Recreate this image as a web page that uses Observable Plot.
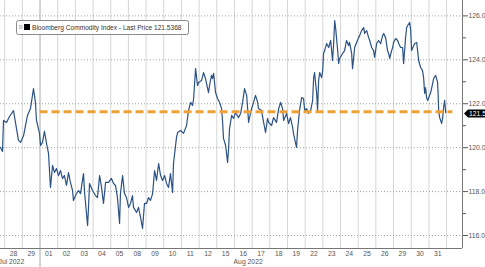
<!DOCTYPE html>
<html><head><meta charset="utf-8">
<script src="https://cdn.jsdelivr.net/npm/d3@7"></script>
<script src="https://cdn.jsdelivr.net/npm/@observablehq/plot@0.6"></script>
<style>body{margin:0;background:#fff;overflow:hidden} svg{display:block}</style>
</head><body><div id="chart"></div>
<script>
// Trading-day labels (index 0 = Jul 27)
const dayLabels = ["27","28","29","01","02","03","04","05","08","09","10","11","12","15","16","17","18","19","22","23","24","25","26","29","30","31"];
const monthLabels = ["Jul 2022","Aug 2022"];
const monthLabelPos = [0.65, 13.95];
// Intraday position in trading days
const pos = [0.764,0.877,0.934,1.104,1.273,1.50,1.61,1.78,1.90,2.07,2.29,2.46,2.63,2.74,2.80,2.97,3.03,3.14,3.25,3.37,3.48,3.59,3.71,3.82,3.93,4.05,4.16,4.27,4.38,4.50,4.61,4.72,4.84,4.89,5.06,5.18,5.29,5.46,5.52,5.69,5.74,5.80,5.97,6.14,6.25,6.37,6.48,6.59,6.71,6.88,7.04,7.16,7.27,7.38,7.50,7.55,7.67,7.78,7.89,8.01,8.12,8.23,8.29,8.46,8.57,8.69,8.80,8.91,9.03,9.14,9.25,9.37,9.48,9.59,9.71,9.82,9.93,10.05,10.16,10.27,10.38,10.50,10.55,10.72,10.78,10.95,11.12,11.29,11.40,11.52,11.63,11.69,11.80,11.91,11.97,12.14,12.25,12.36,12.53,12.59,12.70,12.76,12.82,12.93,13.04,13.16,13.27,13.33,13.38,13.50,13.61,13.67,13.72,13.84,13.95,14.06,14.23,14.35,14.46,14.57,14.69,14.80,14.85,14.97,15.08,15.19,15.31,15.36,15.53,15.65,15.76,15.87,15.93,16.10,16.21,16.38,16.50,16.61,16.72,16.78,16.95,17.06,17.17,17.29,17.34,17.46,17.51,17.57,17.68,17.80,17.91,17.97,18.08,18.19,18.31,18.42,18.48,18.53,18.65,18.70,18.76,18.82,18.93,18.99,19.04,19.10,19.21,19.33,19.44,19.55,19.61,19.67,19.72,19.84,19.89,19.95,20.12,20.23,20.34,20.46,20.51,20.63,20.68,20.80,20.91,21.02,21.08,21.19,21.31,21.36,21.48,21.59,21.65,21.76,21.87,21.93,22.04,22.15,22.27,22.38,22.44,22.55,22.66,22.72,22.78,22.89,22.95,23.00,23.12,23.23,23.29,23.40,23.51,23.57,23.68,23.74,23.80,23.91,23.97,24.02,24.14,24.19,24.31,24.36,24.42,24.53,24.64,24.70,24.76,24.81,24.87,24.93,25.10,25.21,25.27,25.38,25.49,25.52,25.55,25.61,25.72,25.78,25.83,25.89,25.95];
const price = [120.01,119.83,121.24,121.15,121.42,121.69,121.15,120.33,120.24,120.55,121.47,121.78,122.69,122.06,121.24,120.65,120.10,120.24,120.74,120.19,119.74,118.19,119.19,118.87,119.05,118.73,118.96,118.60,118.73,118.28,118.87,118.42,118.05,117.60,117.91,118.05,117.91,118.82,117.96,116.46,117.23,118.37,118.05,117.82,117.73,118.73,118.19,117.46,118.42,118.42,118.60,118.37,118.28,117.73,116.55,117.91,118.73,117.91,117.73,117.28,117.46,117.82,117.28,117.05,117.28,116.82,116.32,117.46,117.46,117.73,117.60,117.91,118.96,118.51,119.28,118.73,118.51,118.73,118.37,118.19,118.82,117.96,119.28,120.46,120.69,120.78,120.65,121.01,121.69,122.06,121.92,122.24,123.60,122.83,122.97,123.06,123.42,123.15,122.51,122.83,123.29,123.15,123.38,122.51,122.24,122.06,121.78,121.15,120.42,120.10,119.33,119.96,120.87,121.47,121.33,121.60,121.37,121.56,122.06,122.69,122.38,121.15,121.37,121.78,122.06,122.38,122.06,121.78,121.69,121.15,120.69,121.33,121.15,121.01,121.37,121.15,121.78,122.06,121.78,121.24,121.56,121.10,121.37,120.92,120.65,120.19,120.01,120.78,121.69,122.28,122.24,121.69,121.78,121.56,121.69,122.15,123.19,123.42,122.47,121.69,123.06,123.42,123.19,123.51,124.29,124.42,124.74,124.56,124.88,123.97,124.74,125.79,125.47,124.42,123.83,124.06,124.29,124.42,124.88,124.65,124.79,124.29,123.60,124.56,124.79,125.01,125.10,125.33,125.47,125.20,125.33,125.01,124.88,124.56,124.42,124.11,124.74,124.88,124.74,125.10,125.20,125.01,124.42,124.29,124.06,124.42,124.56,124.79,124.97,124.88,124.74,124.56,124.56,123.83,125.01,125.47,125.56,125.70,125.33,124.42,124.65,124.74,124.79,124.42,123.97,123.65,123.51,123.19,122.47,122.74,122.28,122.15,122.51,122.92,123.15,123.29,122.97,122.47,121.69,121.37,121.10,121.37,121.83,122.15,121.60];
const refLevel = 121.64;
const lastPrice = 121.5368;
const yTicks = [116,118,120,122,124,126];
const yMinor = [117,119,121,123,125];
const legendText = "Bloomberg Commodity Index - Last Price 121.5368";

const series = pos.map((p, i) => ({p, v: price[i]}));
const xTicks = dayLabels.map((l, i) => ({p: i + 0.5, l})).filter(d => d.p > 0.9);
const labelAt = new Map(xTicks.map(d => [d.p, d.l]));
const months = monthLabels.map((l, i) => ({p: monthLabelPos[i], l}));
const xMin = 0.764, xMax = 26.9, yMin = 115.41, yMax = 126.70;

const chart = Plot.plot({
  width: 485, height: 267,
  marginLeft: 0, marginRight: 23, marginTop: 0, marginBottom: 19,
  x: {domain: [xMin, xMax], axis: null},
  y: {domain: [yMin, yMax], axis: null},
  style: {fontFamily: "'Liberation Sans', Arial, sans-serif", background: "#fff", overflow: "hidden"},
  marks: [
    Plot.ruleX(d3.range(1, 27).filter(d => d !== 3), {stroke: "#d6d6d6"}),
    Plot.ruleX([3], {stroke: "#a8a8a8", insetBottom: -19}),
    Plot.ruleY(yTicks, {stroke: "#a0a0a0", strokeDasharray: "1,2"}),
    Plot.line(series, {x: "p", y: "v", stroke: "#2b5283", strokeWidth: 1.2}),
    Plot.ruleY([refLevel], {x1: 3.0, x2: 26.35, stroke: "#f0a035", strokeWidth: 3, strokeDasharray: "8,4"}),
    Plot.ruleX([xMax], {stroke: "#777"}),
    Plot.ruleY([yMin], {stroke: "#777"}),
    Plot.axisY(yTicks, {anchor: "right", tickSize: 5, tickPadding: 1, tickFormat: d => d.toFixed(2), fontSize: 6.8, stroke: "#555", fill: "#555", label: null}),
    Plot.axisY(yMinor, {anchor: "right", tickSize: 3, tickFormat: () => "", stroke: "#555", label: null}),
    Plot.axisX(xTicks.map(d => d.p), {anchor: "bottom", tickSize: 0, tickPadding: 3, tickFormat: p => labelAt.get(p), fontSize: 6.8, fill: "#555", label: null}),
    Plot.text(months, {x: "p", text: "l", frameAnchor: "bottom", dy: 15, textAnchor: "start", fontSize: 6.8, fill: "#555"})
  ]
});

const svg = d3.select(chart);
// last price tag on the right axis
const yL = chart.scale("y").apply(lastPrice);
const xL = chart.scale("x").apply(xMax);
const tag = svg.append("g");
tag.append("path")
  .attr("d", `M${xL + 2},${yL} L${xL + 6},${yL - 4} L${xL + 30},${yL - 4} L${xL + 30},${yL + 4} L${xL + 6},${yL + 4} Z`)
  .attr("fill", "#000");
tag.append("text").attr("x", xL + 7).attr("y", yL + 2.5).attr("text-anchor", "start")
  .attr("fill", "#fff").attr("font-size", 6.8)
  .text(lastPrice.toFixed(2));

// legend box inside plot
const lg = svg.append("g");
lg.append("rect").attr("x", 16.5).attr("y", 20.5).attr("width", 172).attr("height", 14).attr("rx", 2)
  .attr("fill", "#fff").attr("stroke", "#8a8a8a");
lg.append("rect").attr("x", 19.5).attr("y", 25.5).attr("width", 3).attr("height", 3).attr("fill", "#ddd").attr("stroke", "#aaa").attr("stroke-width", 0.5);
lg.append("rect").attr("x", 24).attr("y", 24).attr("width", 6).attr("height", 6).attr("fill", "#000");
lg.append("text").attr("x", 32).attr("y", 30).attr("text-anchor", "start")
  .attr("font-size", 6.6).attr("fill", "#333").text(legendText);

document.getElementById("chart").appendChild(chart);
</script></body></html>
